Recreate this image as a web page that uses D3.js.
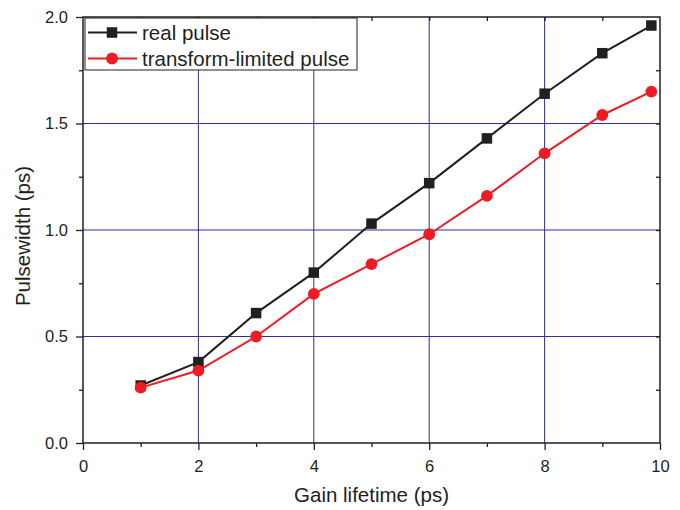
<!DOCTYPE html>
<html><head><meta charset="utf-8">
<script src="https://cdn.jsdelivr.net/npm/d3@7"></script>
<style>body{margin:0;background:#fff}svg{display:block}text{font-family:"Liberation Sans",Arial,sans-serif;fill:#231f20}</style>
</head><body>
<svg id="c" width="680" height="510"></svg>
<script>
const gainLifetime = [1, 2, 3, 4, 5, 6, 7, 8, 9, 9.85];
const realPulse = [0.27, 0.38, 0.61, 0.80, 1.03, 1.22, 1.43, 1.64, 1.83, 1.96];
const tlPulse = [0.26, 0.34, 0.50, 0.70, 0.84, 0.98, 1.16, 1.36, 1.54, 1.65];
const xTicks = [0, 2, 4, 6, 8, 10];
const yTicks = [0.0, 0.5, 1.0, 1.5, 2.0];
const seriesNames = ["real pulse", "transform-limited pulse"];

const svg = d3.select("#c");
const L = 83, R = 660, T = 17, B = 443;
const x = d3.scaleLinear().domain([0, 10]).range([L, R]);
const y = d3.scaleLinear().domain([0, 2]).range([B, T]);
const ink = "#231f20", red = "#ed1c24", grid = "#2e3192";

// grid
const g = svg.append("g");
g.selectAll(".gx").data(xTicks.filter(d => d > 0 && d < 10)).join("line")
  .attr("x1", d => x(d)).attr("x2", d => x(d)).attr("y1", T).attr("y2", B)
  .attr("stroke", grid).attr("stroke-width", 1);
g.selectAll(".gy").data(yTicks.filter(d => d > 0 && d < 2)).join("line")
  .attr("x1", L).attr("x2", R).attr("y1", d => y(d)).attr("y2", d => y(d))
  .attr("stroke", grid).attr("stroke-width", 1);

// axes
const fmtY = d3.format(".1f");
const ax = svg.append("g").attr("transform", `translate(0,${B})`)
  .call(d3.axisBottom(x).tickValues(xTicks).tickSize(7).tickPadding(10).tickFormat(d3.format("d")));
const axm = svg.append("g").attr("transform", `translate(0,${B})`)
  .call(d3.axisBottom(x).tickValues(d3.range(1, 10, 2)).tickSize(4).tickFormat(""));
const ay = svg.append("g").attr("transform", `translate(${L},0)`)
  .call(d3.axisLeft(y).tickValues(yTicks).tickSize(7).tickPadding(8).tickFormat(fmtY));
const aym = svg.append("g").attr("transform", `translate(${L},0)`)
  .call(d3.axisLeft(y).tickValues(d3.range(0.25, 2, 0.5)).tickSize(4).tickFormat(""));
const at = svg.append("g").attr("transform", `translate(0,${T})`)
  .call(d3.axisBottom(x).tickValues(d3.range(1, 10, 1)).tickSize(4).tickFormat(""));
const ar = svg.append("g").attr("transform", `translate(${R},0)`)
  .call(d3.axisLeft(y).tickValues(d3.range(0.25, 2, 0.25)).tickSize(4).tickFormat(""));
[ax, axm, ay, aym, at, ar].forEach(a => {
  a.select(".domain").remove();
  a.selectAll("line").attr("stroke", ink).attr("stroke-width", 1.3);
  a.selectAll("text").attr("font-size", 16.5).attr("fill", ink)
    .style("font-family", '"Liberation Sans",Arial,sans-serif');
});
svg.append("rect").attr("x", L).attr("y", T).attr("width", R - L).attr("height", B - T)
  .attr("fill", "none").attr("stroke", ink).attr("stroke-width", 1.5);

// lines
const data = [realPulse, tlPulse];
const colors = [ink, red];
const line = d3.line().x((d, i) => x(gainLifetime[i])).y(d => y(d));
data.forEach((s, k) => {
  svg.append("path").datum(s).attr("d", line).attr("fill", "none")
    .attr("stroke", colors[k]).attr("stroke-width", 2);
});
svg.selectAll(".sq").data(realPulse).join("rect")
  .attr("x", (d, i) => x(gainLifetime[i]) - 5.25).attr("y", d => y(d) - 5.25)
  .attr("width", 10.5).attr("height", 10.5).attr("fill", ink);
svg.selectAll(".ci").data(tlPulse).join("circle")
  .attr("cx", (d, i) => x(gainLifetime[i])).attr("cy", d => y(d)).attr("r", 5.9).attr("fill", red);

// legend
const lg = svg.append("g");
lg.append("rect").attr("x", 85).attr("y", 18).attr("width", 272).attr("height", 52)
  .attr("fill", "#fff").attr("stroke", ink).attr("stroke-width", 1);
seriesNames.forEach((n, k) => {
  const yy = 32.5 + k * 26;
  lg.append("line").attr("x1", 88).attr("x2", 137).attr("y1", yy).attr("y2", yy)
    .attr("stroke", colors[k]).attr("stroke-width", 2);
  if (k === 0) lg.append("rect").attr("x", 112 - 5.25).attr("y", yy - 5.25).attr("width", 10.5).attr("height", 10.5).attr("fill", ink);
  else lg.append("circle").attr("cx", 112).attr("cy", yy).attr("r", 5.9).attr("fill", red);
  lg.append("text").attr("x", 142).attr("y", yy + 7).attr("font-size", 20.5).text(n);
});

// titles
svg.append("text").attr("x", (L + R) / 2 + 0).attr("y", 502).attr("text-anchor", "middle")
  .attr("font-size", 20.5).text("Gain lifetime (ps)");
svg.append("text").attr("transform", `translate(30,${(T + B) / 2 + 6}) rotate(-90)`)
  .attr("text-anchor", "middle").attr("font-size", 20.5).text("Pulsewidth (ps)");
</script>
</body></html>
